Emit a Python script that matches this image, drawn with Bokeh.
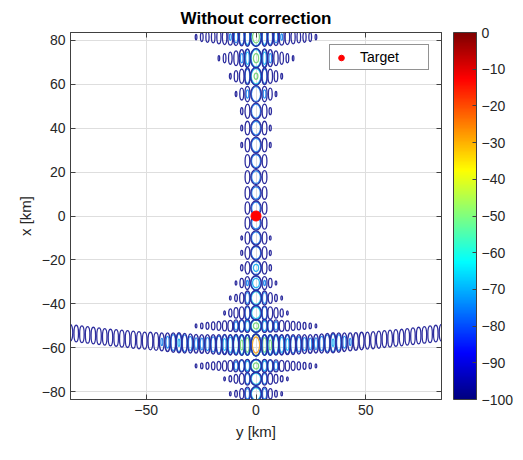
import numpy as np
from bokeh.plotting import figure
from bokeh.models import (Range1d, ColumnDataSource, LinearColorMapper, ColorBar,
                          FixedTicker, LinearAxis, Legend, LegendItem, CustomJSTickFormatter)
from bokeh.embed import file_html
from bokeh.resources import INLINE

# ---------------- data ----------------
# contour levels (dB) and their colours
levels = [-90, -80, -70, -60, -50, -40, -30, -20, -10]
level_colors = ["#2D2D9E", "#2E8FF0", "#2AB4F2", "#3CD2E6", "#7ED67E",
                "#D8DC3A", "#F6A23C", "#F0502A", "#C01818"]

# vertical stripe of lobes along y = 0 (row positions in x, km)
stripe_x = [81.4, 71.8, 63.6, 55.5, 47.7, 40.0, 32.3, 25.0, 17.7, 10.5, 3.6,
            -3.2, -10.0, -16.8, -23.6, -30.5, -37.3, -44.1, -50.0, -68.2, -74.1, -80.9]
stripe_h = [8.5, 8.8, 8.1, 8.0, 7.7, 7.6, 7.5, 7.2, 7.2, 7.0, 6.8,
            6.8, 6.8, 6.8, 6.8, 6.8, 6.8, 6.6, 6.0, 6.0, 6.0, 6.5]
stripe_center_peak = [-46, -48, -49, -70, -71, -71, -71, -71, -72, -72, -72,
                      -72, -71, -70, -68, -66, -50, -52, -48, -48, -50, -50]
stripe_side_peaks = [
    [-62, -72, -76, -79, -82, -84, -86, -87, -88, -89.3],
    [-66, -78, -83, -86, -88, -89.4],
    [-72, -82, -86, -89.2],
    [-78, -85, -89.3],
    [-80, -88.5],
    [-81, -89],
    [-81, -89.2],
    [-81],
    [-81],
    [-81],
    [-81],
    [-81],
    [-81, -89.3],
    [-80, -89],
    [-80, -88.5],
    [-79, -86, -89.3],
    [-74, -84, -88, -89.3],
    [-70, -80, -84, -87, -89.3],
    [-64, -70, -76, -80, -83, -85, -86.5, -87.5, -88.5, -89.3],
    [-64, -70, -76, -80, -83, -85, -86.5, -87.5, -88.5, -89.3],
    [-72, -80, -85, -88, -89.3],
    [-74, -84, -88, -89.3],
]
stripe_side_y = [3.9, 6.5, 9.1, 11.7, 14.3, 16.9, 19.5, 22.1, 24.7, 27.3]

# horizontal band of lobes (centre and one side, mirrored)
band_y = [0.0, 3.9, 6.5, 9.1, 11.7, 14.3, 16.9, 19.5, 22.1, 24.7, 27.3, 29.9,
          32.5, 35.1, 37.7, 40.3, 42.9, 45.5, 48.1, 50.7, 53.3, 55.9, 58.5,
          61.1, 63.7, 66.3, 68.9, 71.5, 74.1, 76.7, 79.3, 81.9, 84.5]
band_x = [-58.7, -58.7, -58.7, -58.6, -58.6, -58.5, -58.5, -58.4, -58.3, -58.2,
          -58.1, -58.0, -57.9, -57.7, -57.6, -57.4, -57.3, -57.1, -56.9, -56.7,
          -56.5, -56.3, -56.0, -55.8, -55.5, -55.3, -55.0, -54.7, -54.4, -54.1,
          -53.8, -53.5, -53.1]
band_peak = [-24, -45, -48, -60, -64, -67, -71, -74, -76, -77, -77, -75, -72,
             -69, -73, -77, -79, -80, -80, -81, -81, -81, -81.5, -81.5, -82,
             -82, -82, -82, -82, -82, -82, -82, -82]

target_y = [0.0]
target_x = [0.0]

x_ticks = [-50, 0, 50]
y_ticks = [-80, -60, -40, -20, 0, 20, 40, 60, 80]
cbar_ticks = [-100, -90, -80, -70, -60, -50, -40, -30, -20, -10, 0]

# ---------------- build lobe list ----------------
lobes = []  # (y_center, x_center, full_width, full_height, peak)
for i, xr in enumerate(stripe_x):
    lobes.append((0.0, xr, 5.0, stripe_h[i], stripe_center_peak[i]))
    for k, pk in enumerate(stripe_side_peaks[i]):
        for s in (-1, 1):
            lobes.append((s * stripe_side_y[k], xr, 2.6, stripe_h[i], pk))
lobes.append((band_y[0], band_x[0], 4.6, 10.0, band_peak[0]))
for k in range(1, len(band_y)):
    for s in (-1, 1):
        lobes.append((s * band_y[k], band_x[k], 2.6, 9.5, band_peak[k]))

# contour ellipses per level
D = 8.0
per_level = {L: dict(x=[], y=[], w=[], h=[]) for L in levels}
for (cy, cx, W, H, P) in lobes:
    for L in levels:
        if L < P:
            u = np.sqrt(1.0 - np.exp(-(P - L) / D))
            d = per_level[L]
            d["x"].append(cy)
            d["y"].append(cx)
            d["w"].append(W * u)
            d["h"].append(H * u)

# ---------------- figure ----------------
FONT = "Liberation Sans"
TXT = "#262626"

p = figure(width=523, height=460, output_backend="svg", toolbar_location=None,
           x_range=Range1d(-84.5, 84.5), y_range=Range1d(-83.5, 83.5),
           min_border_left=70, min_border_right=82, min_border_top=32,
           min_border_bottom=61, title="Without correction")
p.title.align = "center"
p.title.text_font = FONT
p.title.text_font_size = "17px"
p.title.text_font_style = "bold"
p.title.text_color = "#000000"
p.title.offset = 0
p.title.standoff = 10

p.outline_line_color = "#404040"
p.background_fill_color = "white"
p.border_fill_color = "white"

for ax, ticks, lab in ((p.xaxis[0], x_ticks, "y [km]"), (p.yaxis[0], y_ticks, "x [km]")):
    ax.ticker = FixedTicker(ticks=ticks)
    ax.axis_label = lab
    ax.axis_label_text_font = FONT
    ax.axis_label_text_font_size = "15px"
    ax.axis_label_text_font_style = "normal"
    ax.axis_label_text_color = TXT
    ax.major_label_text_font = FONT
    ax.major_label_text_font_size = "14px"
    ax.major_label_text_color = TXT
    ax.major_tick_in = 5
    ax.major_tick_out = 0
    ax.minor_tick_line_color = None
    ax.axis_line_color = "#404040"
    ax.major_tick_line_color = "#404040"

p.xgrid.ticker = FixedTicker(ticks=x_ticks)
p.ygrid.ticker = FixedTicker(ticks=y_ticks)
p.grid.grid_line_color = "#DEDEDE"
p.grid.grid_line_width = 1

# box ticks on top and right (no labels)
blank = CustomJSTickFormatter(code="return ''")
top_ax = LinearAxis(ticker=FixedTicker(ticks=x_ticks), formatter=blank,
                    major_tick_in=5, major_tick_out=0, minor_tick_line_color=None,
                    axis_line_color="#404040", major_tick_line_color="#404040",
                    major_label_standoff=0)
right_ax = LinearAxis(ticker=FixedTicker(ticks=y_ticks), formatter=blank,
                      major_tick_in=5, major_tick_out=0, minor_tick_line_color=None,
                      axis_line_color="#404040", major_tick_line_color="#404040",
                      major_label_standoff=0)
p.add_layout(top_ax, "above")
p.add_layout(right_ax, "right")

# contour ellipses: highest levels first so the outer rings stay on top
for L, col in sorted(zip(levels, level_colors), key=lambda t: -t[0]):
    d = per_level[L]
    if not d["x"]:
        continue
    src = ColumnDataSource(d)
    p.ellipse(x="x", y="y", width="w", height="h", source=src,
              fill_color=None, line_color=col, line_width=1.3)

tgt = p.scatter(x=target_y, y=target_x, size=10, marker="circle",
                fill_color="#FF0000", line_color="#FF0000")

legend = Legend(items=[LegendItem(label="Target", renderers=[tgt])],
                location="top_right", margin=12, padding=4, spacing=0,
                glyph_width=14, glyph_height=15, label_standoff=12,
                label_width=64, label_text_font=FONT, label_text_font_size="14px",
                label_text_color="#000000", border_line_color="#262626",
                border_line_width=1, background_fill_color="white",
                background_fill_alpha=1.0)
p.add_layout(legend)

# colour bar (jet)
def jet_palette(n):
    cols = []
    for t in np.linspace(0, 1, n):
        r = np.clip(1.5 - abs(4 * t - 3), 0, 1)
        g = np.clip(1.5 - abs(4 * t - 2), 0, 1)
        b = np.clip(1.5 - abs(4 * t - 1), 0, 1)
        cols.append("#%02x%02x%02x" % (int(r * 255), int(g * 255), int(b * 255)))
    return cols

mapper = LinearColorMapper(palette=jet_palette(256), low=-100, high=0)
cbar = ColorBar(color_mapper=mapper, ticker=FixedTicker(ticks=cbar_ticks),
                width=23, height=367, margin=0, padding=0, location=(12, 0),
                major_label_text_font=FONT, major_label_text_font_size="14px",
                major_label_text_color=TXT, major_tick_in=4, major_tick_out=0,
                major_tick_line_color="#404040", bar_line_color="#404040",
                border_line_color=None, background_fill_color=None,
                label_standoff=5, minor_tick_line_color=None)
p.add_layout(cbar, "right")

open("out.html", "w").write(file_html(p, INLINE))
